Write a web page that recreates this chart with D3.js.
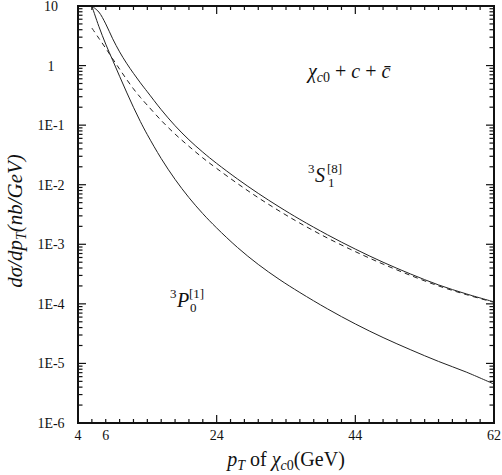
<!DOCTYPE html>
<html>
<head>
<meta charset="utf-8">
<script src="https://cdn.jsdelivr.net/npm/d3@7"></script>
<style>
  html, body { margin: 0; padding: 0; background: #fff; }
  svg { display: block; }
  text { font-family: "Liberation Serif", "Times New Roman", "DejaVu Serif", serif; fill: #111; }
</style>
</head>
<body>
<svg id="chart" width="502" height="475"></svg>
<script>
// ---- data ----
const pT = [6, 7, 8, 9, 10, 11, 12, 13, 14, 16, 18, 20, 22, 24, 27, 30, 33, 36, 40, 44, 48, 52, 56, 60, 64];
const s18 = [10, 7.94, 5.01, 2.82, 1.70, 1.096, 0.741, 0.513, 0.363, 0.182, 0.0977, 0.0568, 0.0352, 0.0228, 0.0125, 0.00715, 0.00426, 0.00262, 0.00144, 8.30e-4, 5.00e-4, 3.16e-4, 2.08e-4, 1.47e-4, 1.08e-4];
const p01 = [10, 4.57, 2.29, 1.23, 0.661, 0.359, 0.1995, 0.1148, 0.0692, 0.02754, 0.0123, 0.00608, 0.00327, 0.00188, 8.85e-4, 4.59e-4, 2.59e-4, 1.55e-4, 8.22e-5, 4.60e-5, 2.72e-5, 1.69e-5, 1.08e-5, 7.16e-6, 4.5e-6];
const dashed = [4.27, 2.88, 1.95, 1.30, 0.871, 0.589, 0.407, 0.292, 0.216, 0.120, 0.0708, 0.0441, 0.0282, 0.01875, 0.01047, 0.00605, 0.00364, 0.002265, 0.00127, 7.53e-4, 4.65e-4, 2.99e-4, 2.00e-4, 1.43e-4, 1.06e-4];

const xTickValues = [4, 8, 24, 44, 64];
const xTickLabels = ["4", "6", "24", "44", "62"];
const yTickValues = [10, 1, 1e-1, 1e-2, 1e-3, 1e-4, 1e-5, 1e-6];
const yTickLabels = ["10", "1", "1E-1", "1E-2", "1E-3", "1E-4", "1E-5", "1E-6"];

// ---- layout ----
const svg = d3.select("#chart");
const L = 78, R = 494, T = 6, B = 423;
const x = d3.scaleLinear().domain([4, 64]).range([L, R]);
const y = d3.scaleLog().domain([1e-6, 10]).range([B, T]);

// ---- curves ----
const line = (vals) => d3.line()
  .x((d, i) => x(pT[i]))
  .y(d => y(d))
  .curve(d3.curveCatmullRom.alpha(0.5))(vals);

const g = svg.append("g");
g.append("path").attr("d", line(s18)).attr("fill", "none").attr("stroke", "#222").attr("stroke-width", 1);
g.append("path").attr("d", line(p01)).attr("fill", "none").attr("stroke", "#222").attr("stroke-width", 1);
g.append("path").attr("d", line(dashed)).attr("fill", "none").attr("stroke", "#222").attr("stroke-width", 1)
  .attr("stroke-dasharray", "5,4");

// ---- ticks (all four sides, inward) ----
const ticks = svg.append("g").attr("stroke", "#111").attr("stroke-width", 1.2);
const xMinor = d3.range(6, 64, 2);
xMinor.forEach(v => {
  const len = (v === 24 || v === 44) ? 8 : 4;
  ticks.append("line").attr("x1", x(v)).attr("x2", x(v)).attr("y1", B).attr("y2", B - len);
  ticks.append("line").attr("x1", x(v)).attr("x2", x(v)).attr("y1", T).attr("y2", T + len);
});
const yAll = y.ticks(80).filter(v => v > 1e-6 && v < 10);
yAll.forEach(v => {
  const m = Math.round(v / Math.pow(10, Math.floor(Math.log10(v) + 1e-9)));
  const len = (m === 1) ? 8 : 4.5;
  ticks.append("line").attr("x1", L).attr("x2", L + len).attr("y1", y(v)).attr("y2", y(v));
  ticks.append("line").attr("x1", R).attr("x2", R - len).attr("y1", y(v)).attr("y2", y(v));
});

// frame
svg.append("rect").attr("x", L).attr("y", T).attr("width", R - L).attr("height", B - T)
  .attr("fill", "none").attr("stroke", "#111").attr("stroke-width", 2);

// ---- tick labels ----
svg.append("g").selectAll("text").data(xTickValues).join("text")
  .attr("x", d => x(d)).attr("y", 440)
  .attr("text-anchor", "middle").attr("font-size", 14)
  .text((d, i) => xTickLabels[i]);

svg.append("g").selectAll("text").data(yTickValues).join("text")
  .attr("x", 51).attr("y", d => y(d) + 5)
  .attr("text-anchor", "middle").attr("font-size", 14)
  .text((d, i) => yTickLabels[i]);

// ---- axis titles ----
const xt = svg.append("text").attr("x", 286).attr("y", 466).attr("text-anchor", "middle").attr("font-size", 20);
xt.append("tspan").attr("font-style", "italic").text("p");
xt.append("tspan").attr("font-style", "italic").attr("font-size", 14).attr("dy", 4).text("T");
xt.append("tspan").attr("dy", -4).text(" of ");
xt.append("tspan").attr("font-style", "italic").text("χ");
xt.append("tspan").attr("font-style", "italic").attr("font-size", 14).attr("dy", 4).text("c");
xt.append("tspan").attr("font-size", 14).text("0");
xt.append("tspan").attr("dy", -4).text("(GeV)");

const yt = svg.append("text").attr("transform", "translate(22,221) rotate(-90)")
  .attr("text-anchor", "middle").attr("font-size", 21).attr("font-style", "italic");
yt.append("tspan").text("dσ/dp");
yt.append("tspan").attr("font-size", 14).attr("dy", 4).text("T");
yt.append("tspan").attr("dy", -4).text("(nb/GeV)");

// ---- annotations ----
const ch = svg.append("text").attr("x", 308).attr("y", 78).attr("font-size", 20);
ch.append("tspan").attr("font-style", "italic").text("χ");
ch.append("tspan").attr("font-style", "italic").attr("font-size", 14).attr("dy", 4).text("c");
ch.append("tspan").attr("font-size", 14).text("0");
ch.append("tspan").attr("dy", -4).text(" + ");
ch.append("tspan").attr("font-style", "italic").text("c");
ch.append("tspan").text(" + ");
ch.append("tspan").attr("font-style", "italic").text("c̄");

function state(x0, yb, pre, letter, sub, sup) {
  svg.append("text").attr("x", x0).attr("y", yb - 9).attr("font-size", 13).text(pre);
  svg.append("text").attr("x", x0 + 7).attr("y", yb).attr("font-size", 20).attr("font-style", "italic").text(letter);
  svg.append("text").attr("x", x0 + 20).attr("y", yb + 5).attr("font-size", 13).text(sub);
  svg.append("text").attr("x", x0 + 19).attr("y", yb - 9).attr("font-size", 13).text(sup);
}
state(308, 182, "3", "S", "1", "[8]");
state(170, 307, "3", "P", "0", "[1]");
</script>
</body>
</html>
